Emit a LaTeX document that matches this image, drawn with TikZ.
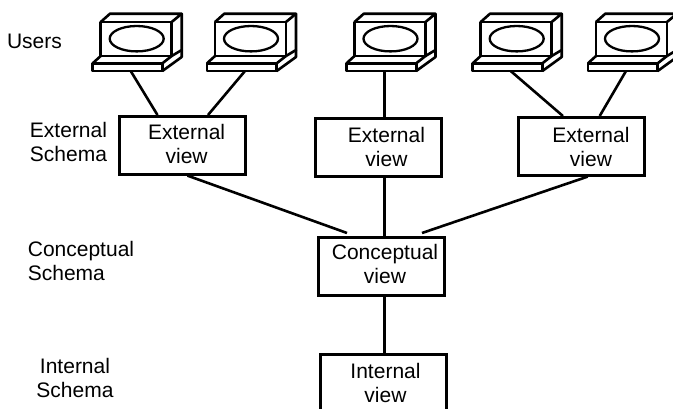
\documentclass[tikz,border=0pt]{standalone}
\usepackage{fontspec}
\setmainfont{Liberation Sans}
\usetikzlibrary{calc}
\tikzset{
	viewbox/.style={draw, line width=2.6pt, anchor=north west, inner sep=0pt, minimum width=126pt, minimum height=58pt},
	viewlabel/.style={align=center, font=\fontsize{21}{24}\selectfont},
	leveltext/.style={font=\fontsize{21}{24}\selectfont},
	link/.style={line width=2.6pt},
	laptop/.pic={
		\draw[line width=2.6pt, line join=round] (0,0) rectangle (71,34);
		\draw[line width=2.6pt, line join=round] (0,0)--(9.3,-8.3)--(81,-8.3)--(71,0);
		\draw[line width=2.6pt, line join=round] (81,-8.3)--(81,28)--(71,34);
		\draw[line width=2.3pt] (36,16.7) ellipse (27 and 12.7);
		\draw[line width=2.6pt, line join=round] (-8,41.3) rectangle (61.7,49);
		\draw[line width=2.6pt, line join=round] (-8,41.3)--(0,34);
		\draw[line width=2.6pt, line join=round] (61.7,41.3)--(71,34);
		\draw[line width=2.6pt, line join=round] (81,28)--(81,35)--(61.7,49);
		\coordinate (-base) at (30,49);
	}
}
\begin{document}
\begin{tikzpicture}[x=1pt, y=-1pt]
	\useasboundingbox (0,0) rectangle (673,408);
	\clip (0,0) rectangle (673,408);
	% users
	\foreach \name/\xpos in {one/100.7, two/215, three/354.5, four/480.7, five/596}
		\pic (\name) at (\xpos,22) {laptop};
	% boxes
	\node[viewbox] (extone) at (118,115) {};
	\node[viewbox] (exttwo) at (314,117) {};
	\node[viewbox] (extthree) at (517,116) {};
	\node[viewbox] (concept) at (317,236) {};
	\node[viewbox, minimum height=70pt] (intern) at (319,353) {};
	% box texts
	\node[viewlabel] (extonetext) at (186.6,144) {External\\view};
	\node[viewlabel] (exttwotext) at (386.5,146.5) {External\\view};
	\node[viewlabel] (extthreetext) at (591,146.5) {External\\view};
	\node[viewlabel] (concepttext) at (385,263.5) {Conceptual\\view};
	\node[viewlabel] (interntext) at (385.5,383) {Internal\\view};
	% level texts
	\node[leveltext] (users) at (34.5,41) {Users};
	\node[leveltext, align=left] (extlevel) at (68.5,141.5) {External\\Schema};
	\node[leveltext, align=left] (conceptlevel) at (81,260.5) {Conceptual\\Schema};
	\node[leveltext, align=center] (internlevel) at (75,378) {Internal\\Schema};
	% free ends over the conceptual box
	\coordinate (conceptleft) at (347,233);
	\coordinate (conceptright) at (422,233);
	% connectors
	\draw[link] (one-base)--($(extone.north west)!.307!(extone.north east)$);
	\draw[link] (two-base)--($(extone.north west)!.70!(extone.north east)$);
	\draw[link] (three-base)--(three-base |- exttwo.north);
	\draw[link] (four-base)--($(extthree.north west)!.357!(extthree.north east)$);
	\draw[link] (five-base)--($(extthree.north west)!.643!(extthree.north east)$);
	\draw[link] ($(extone.south west)!.54!(extone.south east)$)--(conceptleft);
	\draw[link] (three-base |- exttwo.south)--(three-base |- concept.north);
	\draw[link] ($(extthree.south west)!.55!(extthree.south east)$)--(conceptright);
	\draw[link] (three-base |- concept.south)--(three-base |- intern.north);
\end{tikzpicture}
\end{document}
